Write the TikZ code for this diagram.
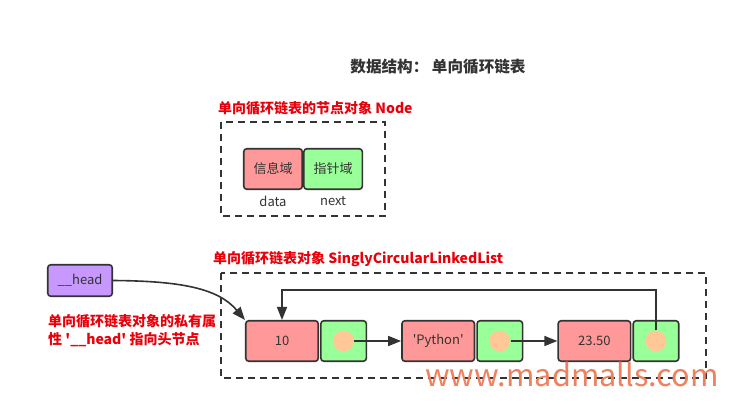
\documentclass[tikz,border=0pt]{standalone}
\usepackage{fontspec}
\setmainfont{Noto Sans CJK SC}[Ligatures=TeXOff]
\usepackage{tikz}
\usetikzlibrary{positioning,arrows.meta,calc}

\definecolor{inkgray}{HTML}{333333}
\definecolor{datared}{HTML}{FF9999}
\definecolor{nextgreen}{HTML}{99FF99}
\definecolor{dotorange}{HTML}{FFC896}
\definecolor{headpurple}{HTML}{C799FF}
\definecolor{notered}{HTML}{E8000B}
\definecolor{markorange}{HTML}{EE8260}

\tikzset{
    cell/.style={draw=inkgray,line width=1.6pt,rounded corners=3pt,minimum height=40.5pt,inner sep=0pt,font=\fontsize{13pt}{15pt}\selectfont,text=inkgray},
    datacell/.style={cell,fill=datared},
    nextcell/.style={cell,fill=nextgreen},
    dot/.style={circle,fill=dotorange,minimum size=21pt,inner sep=0pt},
    frame/.style={draw=inkgray,line width=1.6pt,dash pattern=on 7pt off 5pt},
    note/.style={text=notered,font=\fontsize{14pt}{18pt}\selectfont\bfseries,inner sep=0pt},
    arr/.style={draw=inkgray,line width=1.6pt,-{Triangle[length=13pt,width=10pt]}},
}

\begin{document}
\begin{tikzpicture}[x=1pt,y=-1pt]
    \useasboundingbox[fill=white] (0,0) rectangle (737,410);

    \node[font=\fontsize{15.6pt}{18pt}\selectfont\bfseries,text=inkgray,inner sep=0pt] (title) at (438,67) {数据结构：\ 单向循环链表};

    \node[note,anchor=west] (nodetitle) at (218,108) {单向循环链表的节点对象 Node};
    \draw[frame] (221,122) rectangle (385,216);
    \node[datacell,minimum width=58.5pt] (info) at (273,169) {信息域};
    \node[nextcell,minimum width=58.5pt,right=0pt of info] (ptr) {指针域};
    \node[below=6pt of info,font=\fontsize{13pt}{15pt}\selectfont,text=inkgray,inner sep=0pt] (datalbl) {data};
    \node[below=6pt of ptr,font=\fontsize{13pt}{15pt}\selectfont,text=inkgray,inner sep=0pt] (nextlbl) {next};

    \node[note,anchor=west] (listtitle) at (213,259) {单向循环链表对象 SinglyCircularLinkedList};
    \draw[frame] (221,273) rectangle (706,378);

    \node[cell,fill=headpurple,minimum width=64.5pt,minimum height=31.5pt] (head) at (80,280.5) {\_\_head};
    \node[note,anchor=north west,align=left] (headnote) at (48,314) {单向循环链表对象的私有属\\性 '\_\_head' 指向头节点};

    \node[datacell,minimum width=72.5pt] (d1) at (282,341) {10};
    \node[nextcell,minimum width=45.5pt,right=1pt of d1] (n1) {};
    \node[datacell,minimum width=72.5pt,right=34pt of n1] (d2) {'Python'};
    \node[nextcell,minimum width=45.5pt,right=1pt of d2] (n2) {};
    \node[datacell,minimum width=72.5pt,right=34pt of n2] (d3) {23.50};
    \node[nextcell,minimum width=45.5pt,right=1pt of d3] (n3) {};
    \node[dot] (c1) at (n1.center) {};
    \node[dot] (c2) at (n2.center) {};
    \node[dot] (c3) at (n3.center) {};

    \draw[arr] (c1.east) -- (d2.west);
    \draw[arr] (c2.east) -- (d3.west);
    \coordinate[yshift=30pt] (loop) at (d1.north);
    \draw[arr] (c3.north) |- (loop) -- (d1.north);
    \draw[arr] (head.east) .. controls (180,281) and (218,288) .. (d1.north west);

    \node[text=markorange,font=\fontsize{30.7pt}{34pt}\selectfont,anchor=base,inner sep=0pt] (mark) at (572,386) {www.madmalls.com};
\end{tikzpicture}
\end{document}
